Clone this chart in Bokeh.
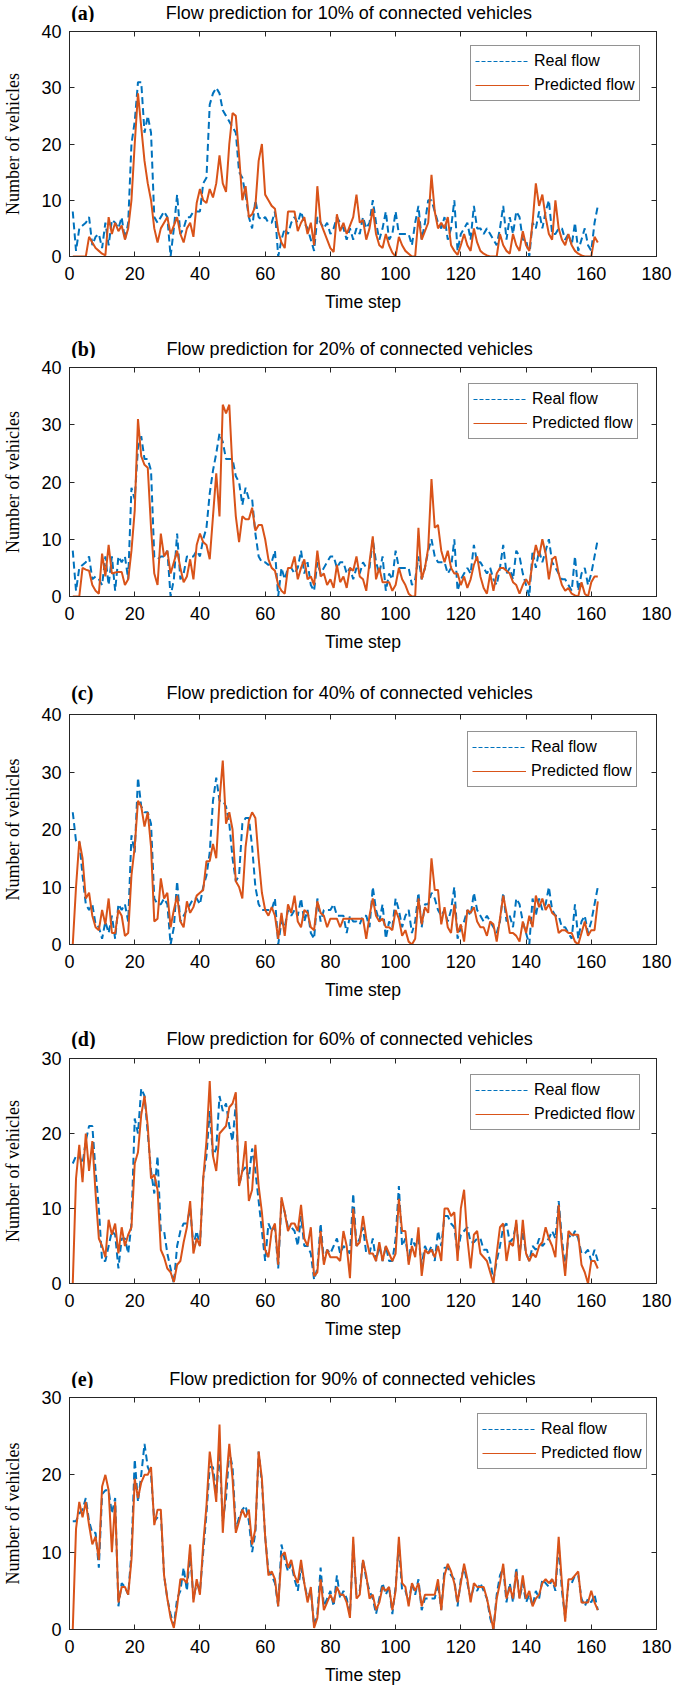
from bokeh.plotting import figure
from bokeh.models import Range1d, LinearAxis, Legend, LegendItem, FixedTicker
from bokeh.layouts import column
from bokeh.embed import file_html
from bokeh.resources import INLINE
from bokeh.core.properties import value

# ---------------- data ----------------
x_ticks = [0, 20, 40, 60, 80, 100, 120, 140, 160, 180]
tags = ["(a)", "(b)", "(c)", "(d)", "(e)"]
titles = ["Flow prediction for 10% of connected vehicles",
          "Flow prediction for 20% of connected vehicles",
          "Flow prediction for 40% of connected vehicles",
          "Flow prediction for 60% of connected vehicles",
          "Flow prediction for 90% of connected vehicles"]
y_max = [40, 40, 40, 30, 30]
legend_labels = ["Real flow", "Predicted flow"]

real_a = [8, 1, 5, 5.5, 6, 7, 2, 3.5, 4, 1.5,
          6, 2, 6.5, 6, 5, 7, 3, 6, 20, 24,
          31, 31, 22, 25, 22, 7, 6, 7, 8, 7,
          0, 5, 11, 4, 5, 7, 7, 8, 8, 8,
          13, 14, 27, 29, 30, 29, 26, 25, 24, 23,
          22, 15, 14, 11, 7, 5, 10, 7, 6.5, 7,
          6, 6, 8, 0, 3, 5, 4, 6, 7, 6,
          8, 6, 5, 3, 1, 7, 6, 5, 6, 4,
          5, 7, 6, 5, 3, 5, 3, 5, 4, 7,
          5, 6, 10, 6, 3, 5, 8, 3, 4, 8,
          4, 4, 4, 4, 2, 6, 9, 3, 6, 10,
          10, 8, 6, 5, 7, 3, 5, 10, 1, 4,
          5, 6, 3, 9, 5, 5, 4, 5, 4, 3,
          2, 5, 9, 3, 7, 4, 8, 7, 3, 3,
          0, 6, 5, 8, 5, 8, 10, 4, 4, 5,
          5, 3, 4, 2, 6, 1, 3, 5, 2, 1,
          6, 9]
pred_a = [0, 0, 0, 0, 0, 3.5, 2.5, 1.5, 1, 0.5,
          0.2, 7, 4, 6, 4.5, 5.5, 3, 5, 10, 20,
          29, 23, 17, 13, 10, 5, 2.5, 5, 6, 7,
          4, 5.5, 7, 4, 2.5, 5, 6, 3.5, 9.5, 12,
          10, 9.5, 12, 10.5, 13, 18, 13, 11.5, 20, 25.5,
          25, 18, 10, 12.5, 7, 7.5, 9, 17, 20, 11,
          10, 9, 8.5, 4.5, 2.5, 1.5, 8, 8, 8, 4.5,
          6, 7, 4, 6, 2, 12.5, 6, 4.5, 3, 1.5,
          0.8, 7.5, 4.5, 6, 4, 5.5, 7, 11, 6, 6.5,
          3, 5, 8.5, 4, 2, 1.5, 4, 2, 0.7, 0,
          3.5, 2, 1, 0.5, 0, 0, 7, 3, 4.5, 6,
          14.5, 8, 5, 6, 5, 7, 2, 1, 0.3, 2,
          4, 2, 1, 5, 2.5, 1, 0.5, 0.2, 0, 0,
          0, 4, 2, 1, 0.5, 4, 2, 1, 4.5, 2,
          1, 6, 13, 9, 11, 7, 4, 3, 10, 5,
          3, 2, 4, 2, 1, 0.5, 0.2, 0, 0, 0,
          3.5, 2.5]

real_b = [8, 1, 5, 5.5, 6, 7, 3, 3.5, 3, 2,
          7, 2, 7, 1, 7, 6, 7, 3, 19, 17,
          26, 28, 24, 24, 22, 7, 6.5, 7, 7, 8,
          0, 3, 11, 3, 4, 7, 7, 7, 8, 7,
          10, 12, 18, 22, 25, 28.5, 27, 24, 24, 24,
          21, 20, 16, 19, 17, 17, 11, 7, 6, 6,
          5.5, 6, 8, 0, 5, 3, 5, 5, 4, 5,
          8, 4, 6, 2, 1, 6, 4, 5, 6, 7,
          7, 5, 6, 6, 4, 5, 3, 5, 4, 6,
          5, 5, 10, 6, 4, 7, 1, 4, 3, 8,
          5, 5, 5, 5, 2, 3, 7, 3, 5, 8,
          10, 7, 6, 6, 6, 4, 5, 10, 1, 3,
          4, 5, 4, 9, 6, 6, 5, 4, 5, 3,
          2, 5, 9, 4, 5, 3, 8, 7, 4, 2,
          0, 8, 5, 8, 6, 8, 10, 6, 5, 4,
          3, 3, 2, 1, 7, 1, 4, 5, 2, 4,
          7, 10]
pred_b = [0, 0, 0, 5, 4.7, 4.5, 2, 1, 0.5, 7.5,
          3.5, 9, 4, 4.2, 4.3, 4.3, 2, 3, 8, 15,
          31, 24.5, 23, 22.5, 12, 4, 2, 11, 7, 8,
          4, 6, 8, 5, 2.5, 3.5, 6.5, 3, 9, 11,
          9.5, 9, 6.5, 14, 21.5, 14, 33.5, 32, 33.5, 22,
          14, 9.5, 14, 13.5, 13.5, 15.5, 11.5, 12.5, 12.5, 10,
          6.5, 5, 4.5, 2, 1, 0.5, 5, 5, 7, 3,
          5, 6.5, 3, 3.5, 2, 8, 3.5, 4, 2, 3,
          1.5, 5.5, 2.5, 3.5, 1.5, 5, 4.5, 7, 3.5, 3,
          1, 6, 10.5, 3, 5, 2.5, 2.5, 2.5, 1, 2,
          5, 3, 2, 0.5, 0, 0, 12, 3, 5, 8.5,
          20.5, 12, 12.5, 8, 6, 8, 5, 4, 4, 2,
          3.5, 1.5, 3, 5.5, 7, 3.5, 1.5, 0.5, 4, 1,
          4, 5, 5, 4.5, 4, 2.5, 2, 0.5, 2, 3,
          2, 6, 9, 7, 10, 7.5, 3, 6.5, 7, 4,
          2, 1, 1.5, 0.5, 0.2, 0, 2.5, 0.5, 0, 2.5,
          3.5, 3.5]

real_c = [23, 18, 18, 12, 7, 6, 7, 3.5, 3, 1,
          4, 2, 5, 1, 7, 6, 7, 4, 19, 16,
          29, 24, 23, 23, 21, 8, 7, 7, 8, 7,
          0, 3, 11, 4, 5, 6, 7, 8, 8, 7,
          10, 12, 16, 25, 29, 25, 25, 24, 21, 15,
          11, 12, 21, 22, 22, 17, 10, 7, 6, 6,
          6, 6, 8, 0, 4, 3, 6, 5, 6, 5,
          8, 4, 6, 2, 1, 8, 4, 6, 6, 6,
          7, 5, 5, 5, 2, 5, 4, 4, 3.5, 5,
          5, 3, 10, 6, 4, 7, 1, 4, 3, 8,
          6, 3, 5, 6, 2, 4, 9, 3, 7, 7,
          9, 8, 6, 5, 6, 4, 6, 10, 1, 3,
          4, 6, 5, 9, 6, 5, 4, 5, 4, 3,
          2, 4, 9, 4, 5, 3, 8, 7, 4, 2,
          0, 8, 5, 8, 6, 7, 10, 6, 5, 5,
          3, 3, 2, 1, 7, 1, 4, 5, 2, 4,
          7, 10]
pred_c = [0, 10, 18, 15, 8, 9, 5, 3, 2.5, 6,
          3.5, 8, 2, 2, 6, 5, 1.5, 2, 12, 17,
          25, 24, 20.5, 23, 17, 4, 4.5, 11.5, 8, 9,
          3, 6, 8.5, 4, 3, 7.5, 5.5, 6.5, 8.5, 9,
          9.5, 14.5, 14.5, 17.5, 15, 25, 32, 21, 23, 20,
          11, 10, 8, 17, 21.5, 23, 22, 15, 9, 6,
          5, 6.5, 5, 1, 5.5, 1.5, 7, 5.5, 8.5, 4,
          3, 6, 5.5, 3, 2.5, 7.5, 5.5, 5, 3, 4.5,
          4.5, 4.5, 3, 4.5, 4.5, 4.5, 4.5, 4.5, 4.5, 4.5,
          1, 5, 8, 5, 4, 4.5, 3, 3, 2.5, 6,
          4.5, 1.5, 2.5, 0.5, 0, 1, 8, 3.5, 6.5, 5.5,
          15, 9.5, 9.5, 3.5, 6.5, 3, 2, 7, 2, 3.5,
          0.5, 6, 5.5, 6.5, 4, 3, 3, 1.5, 4, 3.5,
          0.5, 4.5, 8.5, 5.5, 2, 2, 1.5, 0.5, 4, 2,
          5, 3, 8.5, 6.5, 8, 6, 7, 5.5, 5, 2,
          2.5, 2.5, 2, 2, 0.5, 0, 2, 4, 1.5, 2.5,
          2.5, 7.5]

real_d = [16, 17, 17, 16, 19, 21, 21, 15, 10, 3,
          3, 5, 7, 6.5, 2, 6, 6, 4, 8, 22,
          20, 26, 25, 20, 15, 12, 17, 7, 7, 4,
          2, 0, 5, 7, 8, 8, 10, 5, 7, 5,
          14, 17, 23, 17, 18, 25, 23, 24, 21, 19,
          24, 13, 15, 15.5, 14, 18, 15, 11, 7, 3,
          8, 7, 7.5, 2, 11, 9.5, 7.5, 7.5, 7, 5,
          9, 5, 5, 4, 0.5, 2, 8, 3, 4.5, 4,
          5, 6, 4, 5, 4.5, 4, 12, 5, 6, 7.5,
          4, 4, 6, 3, 5, 3, 5, 3, 3, 6,
          13, 5, 6, 3, 6, 5, 6, 2.5, 5, 4,
          5, 3, 7, 5, 9, 9, 8, 7.5, 4, 6.5,
          7, 7.5, 5.5, 5.5, 6, 6, 4.5, 4.5, 3, 0.5,
          3, 5, 7.5, 8, 5.5, 6, 8, 4, 7, 4,
          3, 5, 4.5, 6, 5, 5.5, 6, 7, 6, 11,
          6, 2, 6.5, 6, 7, 6, 4, 4, 4.5, 3,
          4.5, 3]
pred_d = [0, 14, 18.5, 13.5, 20, 15, 19, 12, 6, 5,
          3.5, 8.5, 6.5, 8, 4, 7.5, 5, 6.5, 7.5, 16,
          17.5, 22.5, 25, 21, 14, 14.5, 12.5, 4.5, 3.5, 2,
          1.5, 0.2, 2.5, 3, 5.5, 7.5, 11, 4, 6, 5,
          14, 19, 27, 17, 15, 20, 20.5, 21, 23.5, 24,
          25.5, 13, 15, 19, 11, 12.5, 18.5, 13, 9.5, 4.5,
          3.5, 7, 8, 2.5, 11.5, 9.5, 7, 8, 8, 7,
          10.5, 6, 5, 7.5, 1, 1.5, 7, 2.5, 4.5, 3.5,
          3.5, 3.5, 3, 7, 5, 0.7, 10, 5, 5.5, 9,
          6, 4, 4, 3, 5.5, 3, 5, 4, 3, 4,
          11.3, 7, 7, 2.5, 5, 3.5, 7.5, 1, 4.5, 4,
          4.5, 3.5, 5, 3, 10, 10, 9, 9.5, 3, 10,
          12.5, 6, 2, 6.5, 7, 4, 3.5, 3, 1.5, 0,
          4, 7.5, 8, 3, 5.5, 5, 8.5, 3, 8.5, 4,
          3, 4, 3.5, 5, 5.5, 7.5, 6, 5, 3.5, 10.5,
          5, 1, 7, 6.5, 6.5, 6.5, 2.5, 1.5, 0, 3,
          3, 2]

real_e = [14, 14, 15, 15.5, 17, 14, 12.5, 12.5, 8, 17.5,
          18, 18, 15, 17, 3, 6, 5.5, 4.5, 10, 22,
          16.5, 20, 24, 21, 20, 14, 14.5, 15, 7, 4,
          2, 0.5, 4, 5, 8, 5, 10, 4, 6, 5,
          10, 15, 21, 21, 17.5, 23, 14, 17, 23, 21,
          13, 14.5, 15.5, 16, 14, 10, 12.5, 23, 19, 12,
          7.5, 7, 6, 3, 11, 9, 7.5, 8.5, 6.5, 5,
          8, 6, 4, 5, 0.5, 2, 8, 3, 4, 5,
          3, 7, 4, 5, 4, 2, 11, 4.5, 5, 9,
          6.5, 5, 4, 2, 4, 6, 4.5, 5.5, 2, 5.5,
          11, 5, 5, 3.5, 6, 4.5, 6.5, 2.5, 4, 4,
          4, 4, 6, 2.5, 8, 8, 7, 6.5, 3, 6.5,
          8, 6, 4, 5.5, 5, 6, 5, 4, 1.5, 0,
          4.5, 7, 8, 3.5, 6, 3.5, 8, 4, 6, 3.5,
          4.5, 3, 5, 4, 6.5, 6, 5.5, 6.5, 5, 11,
          5, 1.5, 6, 6, 7, 7, 4, 3, 4, 3.5,
          4.5, 2.5]
pred_e = [0, 13, 16.5, 14.5, 16.5, 13.5, 11, 12, 9, 18.5,
          20, 18, 10, 16.5, 3.5, 5.5, 5.5, 4.5, 9, 19.5,
          17, 19, 20, 20, 21, 13.5, 15.5, 15.5, 7, 4,
          1.5, 0.2, 3, 6.5, 6.5, 6, 11, 3.5, 6.5, 4.5,
          11, 16, 23, 20, 16.5, 26.5, 12.5, 19, 24, 19.5,
          12.5, 14, 15.5, 14.5, 15.5, 11, 13, 23, 19.5, 12,
          7, 7.5, 6.5, 3, 9.5, 10, 8, 9, 7, 6,
          9, 6, 3.5, 5.5, 0.2, 1.5, 6.5, 2.5, 3.5, 4.5,
          3.5, 5.5, 4.5, 4.5, 3.5, 1.5, 12, 4, 4.5, 9,
          7, 4, 4.5, 2.5, 3.5, 5.5, 5, 5.5, 2.5, 5,
          12, 6, 5.5, 3, 6, 5, 6, 3, 4.5, 4.5,
          4.5, 4.5, 6.5, 2.5, 7, 8.5, 7.5, 6, 3.5, 6,
          8.5, 6.5, 3.5, 6, 5.5, 5.5, 5.5, 4, 2, 0,
          4, 6, 8.5, 4, 5.5, 4, 7.5, 4, 7, 4,
          5, 3, 4, 4.5, 6, 6.5, 6, 6.5, 5.5, 12,
          6, 1, 6.5, 6.5, 7, 7.5, 3.5, 3.5, 3.5, 5,
          3.5, 2.5]

reals = [real_a, real_b, real_c, real_d, real_e]
preds = [pred_a, pred_b, pred_c, pred_d, pred_e]

# ---------------- layout (pixels) ----------------
FIG_W = 685
head_h = [22, 38, 45, 41, 41]          # header strip with tag + title
title_from_top = [12, 28, 32, 30, 31]  # centre of the title text inside the strip
plot_h = [298, 302, 303, 298, 299]
b_left = [66, 68, 68, 67, 68]
b_right = [29, 28, 29, 27, 16]
b_top = [9, 9, 9, 9, 9]
b_bottom = [64, 64, 64, 64, 57]
legend_pos = [(401, 155), (399, 157), (398, 157), (401, 153), (408, 160)]
title_center_x = [326, 327, 327, 327, 330]
tag_x = 2

BLUE = "#0072BD"
ORANGE = "#D95319"
AX = "#262626"
SANS = "Liberation Sans"
SERIF = "Liberation Serif"

items = []
for i in range(5):
    # ---------- header strip (tag + title) ----------
    hh = head_h[i]
    h = figure(width=FIG_W, height=hh, output_backend="svg", toolbar_location=None,
               x_range=Range1d(0, FIG_W), y_range=Range1d(0, hh),
               x_axis_type=None, y_axis_type=None,
               min_border_left=0, min_border_right=0, min_border_top=0, min_border_bottom=0,
               background_fill_color="white", border_fill_color="white",
               outline_line_color=None)
    h.grid.visible = False
    ty = hh - title_from_top[i]
    h.text(x=[tag_x], y=[ty], text=[tags[i]], text_font=value(SERIF),
           text_font_style="bold", text_font_size="20px", text_color="#000000",
           text_align="left", text_baseline="middle")
    h.text(x=[title_center_x[i]], y=[ty], text=[titles[i]], text_font=value(SANS),
           text_font_size="18px", text_color="#000000",
           text_align="center", text_baseline="middle")
    items.append(h)

    # ---------- the chart ----------
    ymax = y_max[i]
    y_ticks = list(range(0, ymax + 1, 10))
    p = figure(width=FIG_W, height=plot_h[i], output_backend="svg", toolbar_location=None,
               x_range=Range1d(0, 180), y_range=Range1d(0, ymax),
               min_border_left=b_left[i], min_border_right=b_right[i],
               min_border_top=b_top[i], min_border_bottom=b_bottom[i],
               background_fill_color="white", border_fill_color="white",
               outline_line_color=AX, outline_line_width=1)
    p.grid.visible = False

    for ax in (p.xaxis[0], p.yaxis[0]):
        ax.axis_line_color = AX
        ax.major_tick_line_color = AX
        ax.major_tick_in = 5
        ax.major_tick_out = 0
        ax.minor_tick_line_color = None
        ax.major_label_text_font = SANS
        ax.major_label_text_font_size = "18px"
        ax.major_label_text_color = "#000000"
    p.xaxis[0].ticker = FixedTicker(ticks=x_ticks)
    p.yaxis[0].ticker = FixedTicker(ticks=y_ticks)
    p.xaxis[0].major_label_standoff = 10
    p.yaxis[0].major_label_standoff = 8
    p.xaxis[0].axis_label = "Time step"
    p.xaxis[0].axis_label_text_font = SANS
    p.xaxis[0].axis_label_text_font_size = "17.5px"
    p.xaxis[0].axis_label_text_font_style = "normal"
    p.xaxis[0].axis_label_text_color = "#000000"
    p.xaxis[0].axis_label_standoff = 9
    p.yaxis[0].axis_label = "Number of vehicles"
    p.yaxis[0].axis_label_text_font = SERIF
    p.yaxis[0].axis_label_text_font_size = "18px"
    p.yaxis[0].axis_label_text_font_style = "normal"
    p.yaxis[0].axis_label_text_color = "#000000"
    p.yaxis[0].axis_label_standoff = 15

    # box ticks on top and right (tick marks only, no labels drawn)
    top_ax = LinearAxis(ticker=FixedTicker(ticks=x_ticks), major_label_text_font_size="1px",
                        major_label_text_color=None,
                        major_tick_in=5, major_tick_out=0, minor_tick_line_color=None,
                        axis_line_color=AX, major_tick_line_color=AX, major_label_standoff=0)
    right_ax = LinearAxis(ticker=FixedTicker(ticks=y_ticks), major_label_text_font_size="1px",
                          major_label_text_color=None,
                          major_tick_in=5, major_tick_out=0, minor_tick_line_color=None,
                          axis_line_color=AX, major_tick_line_color=AX, major_label_standoff=0)
    p.add_layout(top_ax, "above")
    p.add_layout(right_ax, "right")

    xs = list(range(1, len(reals[i]) + 1))
    xp = list(range(1, len(preds[i]) + 1))
    p.line(xs, reals[i], line_color=BLUE, line_width=2, line_dash="7 4")
    p.line(xp, preds[i], line_color=ORANGE, line_width=2)

    # legend samples: thin lines, kept outside the visible ranges
    lr = p.line(x=[-20, -10], y=[-20, -20], line_color=BLUE, line_width=1.2, line_dash="4 2")
    lp = p.line(x=[-20, -10], y=[-20, -20], line_color=ORANGE, line_width=1.2)
    legend = Legend(items=[LegendItem(label=legend_labels[0], renderers=[lr]),
                           LegendItem(label=legend_labels[1], renderers=[lp])],
                    location=legend_pos[i], margin=0, padding=4, spacing=2,
                    glyph_width=54, glyph_height=22, label_height=22, label_standoff=5,
                    label_text_font=SANS, label_text_font_size="16px", label_text_color="#000000",
                    border_line_color=AX, border_line_width=1,
                    background_fill_color="white", background_fill_alpha=1.0)
    p.add_layout(legend)
    items.append(p)

layout = column(*items)
open("out.html", "w").write(file_html(layout, INLINE))
